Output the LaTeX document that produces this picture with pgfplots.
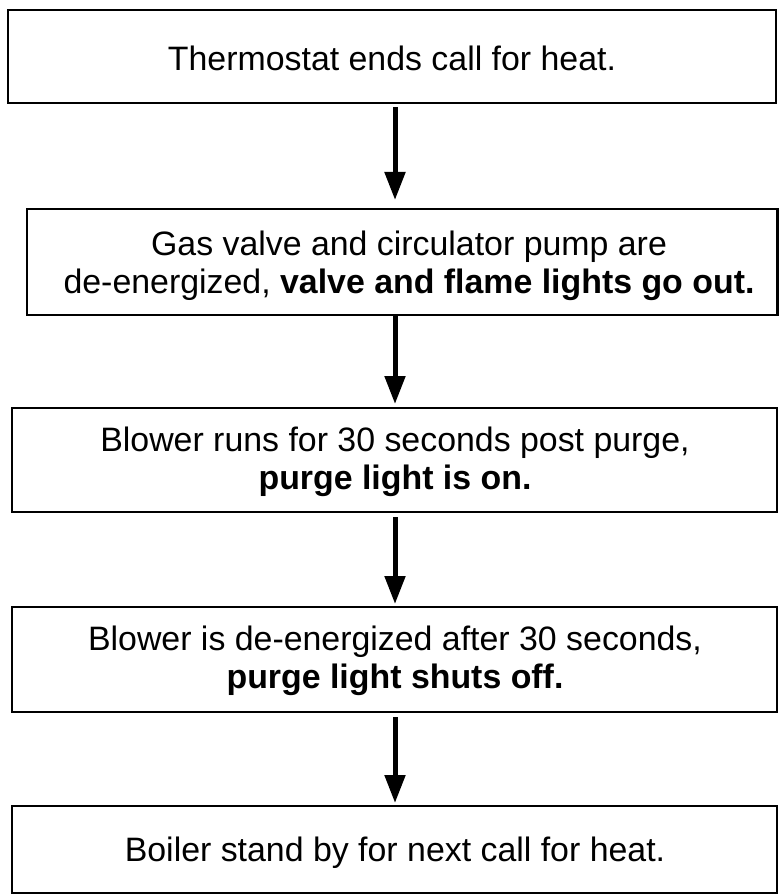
\documentclass[border=0pt]{standalone}
\usepackage{pgfplots}
\pgfplotsset{compat=1.18}
\usepackage{fontspec}
\setmainfont{Liberation Sans}
\usetikzlibrary{arrows.meta}
\tikzset{lbl/.style={font=\fontsize{34}{38}\selectfont, align=center, inner sep=0pt}}
\begin{document}
\begin{tikzpicture}
\begin{axis}[
  scale only axis, width=779bp, height=896bp,
  xmin=0, xmax=779, ymin=0, ymax=896, y dir=reverse,
  axis lines=none, clip=false,
]
\path[draw=none] (axis cs:0,0) rectangle (axis cs:779,896);
% boxes
\addplot[black, line width=2.6bp, line join=miter, mark=none] coordinates {(8,10)(776,10)(776,103)(8,103)} -- cycle;
\addplot[black, line width=2.6bp, line join=miter, mark=none] coordinates {(27,209)(777.5,209)(777.5,315)(27,315)} -- cycle;
\addplot[black, line width=2.6bp, line join=miter, mark=none] coordinates {(12,408)(777,408)(777,512)(12,512)} -- cycle;
\addplot[black, line width=2.6bp, line join=miter, mark=none] coordinates {(12,607)(777,607)(777,712)(12,712)} -- cycle;
\addplot[black, line width=2.6bp, line join=miter, mark=none] coordinates {(12,806)(777,806)(777,893)(12,893)} -- cycle;
% arrows
\addplot[black, line width=5bp, mark=none, -{Triangle[width=20bp,length=28bp]}] coordinates {(395,107)(395,200)};
\addplot[black, line width=5bp, mark=none, -{Triangle[width=20bp,length=28bp]}] coordinates {(395,315)(395,404)};
\addplot[black, line width=5bp, mark=none, -{Triangle[width=20bp,length=28bp]}] coordinates {(395,517)(395,604)};
\addplot[black, line width=5bp, mark=none, -{Triangle[width=20bp,length=28bp]}] coordinates {(395,717)(395,803)};
% texts
\node[lbl] at (axis cs:392,58) {Thermostat ends call for heat.};
\node[lbl] at (axis cs:409,266) {Gas valve and circulator pump are\\de-energized, \textbf{valve and flame lights go out.}};
\node[lbl] at (axis cs:395,462) {Blower runs for 30 seconds post purge,\\\textbf{purge light is on.}};
\node[lbl] at (axis cs:395,661) {Blower is de-energized after 30 seconds,\\\textbf{purge light shuts off.}};
\node[lbl] at (axis cs:395,853) {Boiler stand by for next call for heat.};
\end{axis}
\end{tikzpicture}
\end{document}
